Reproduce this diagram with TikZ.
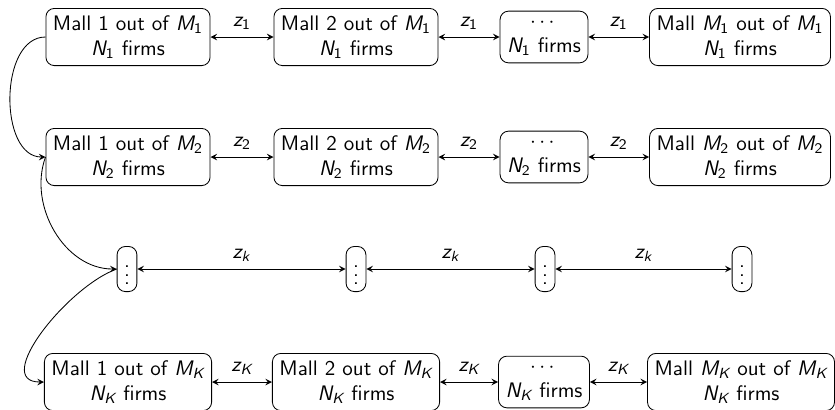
\documentclass[tikz,border=0pt]{standalone}
\usepackage{amsmath}
\usetikzlibrary{arrows}
\newcommand{\vr}[2]{\ensuremath{\textit{#1}_{\textup{#2}}}}
\newcommand{\vi}[2]{\ensuremath{\textit{#1}_{\textit{#2}}}}
\tikzset{
  mall/.style={draw, rounded corners=4pt, align=center, inner sep=3.33pt},
  vd/.style={draw, rounded corners=4pt, inner sep=3.33pt, minimum height=21pt},
  link/.style={<->, >=stealth},
  curv/.style={->, >=stealth},
  lab/.style={above}
}
\begin{document}
\begin{tikzpicture}[x=0.476pt,y=-0.476pt,font=\sffamily]
\useasboundingbox (0,0) rectangle (835,409);
% row 1
\node[mall] (a1) at (128,37) {Mall 1 out of \vr{M}{1}\\\vr{N}{1} firms};
\node[mall] (a2) at (356,37) {Mall 2 out of \vr{M}{1}\\\vr{N}{1} firms};
\node[mall] (a3) at (544,37) {$\cdots$\\\vr{N}{1} firms};
\node[mall] (a4) at (740,37) {Mall \vr{M}{1} out of \vr{M}{1}\\\vr{N}{1} firms};
% row 2
\node[mall] (b1) at (128,157) {Mall 1 out of \vr{M}{2}\\\vr{N}{2} firms};
\node[mall] (b2) at (356,157) {Mall 2 out of \vr{M}{2}\\\vr{N}{2} firms};
\node[mall] (b3) at (544,157) {$\cdots$\\\vr{N}{2} firms};
\node[mall] (b4) at (740,157) {Mall \vr{M}{2} out of \vr{M}{2}\\\vr{N}{2} firms};
% row 3
\node[vd] (c1) at (127,269) {$\vdots$};
\node[vd] (c2) at (356,269) {$\vdots$};
\node[vd] (c3) at (545,269) {$\vdots$};
\node[vd] (c4) at (742,269) {$\vdots$};
% row 4
\node[mall] (d1) at (128,382) {Mall 1 out of \vi{M}{K}\\\vi{N}{K} firms};
\node[mall] (d2) at (356,382) {Mall 2 out of \vi{M}{K}\\\vi{N}{K} firms};
\node[mall] (d3) at (544,382) {$\cdots$\\\vi{N}{K} firms};
\node[mall] (d4) at (741,382) {Mall \vi{M}{K} out of \vi{M}{K}\\\vi{N}{K} firms};
% horizontal links
\draw[link] (a1) -- node[lab]{\vr{z}{1}} (a2);
\draw[link] (a2) -- node[lab]{\vr{z}{1}} (a3);
\draw[link] (a3) -- node[lab]{\vr{z}{1}} (a4);
\draw[link] (b1) -- node[lab]{\vr{z}{2}} (b2);
\draw[link] (b2) -- node[lab]{\vr{z}{2}} (b3);
\draw[link] (b3) -- node[lab]{\vr{z}{2}} (b4);
\draw[link] (c1) -- node[lab]{\vi{z}{k}} (c2);
\draw[link] (c2) -- node[lab]{\vi{z}{k}} (c3);
\draw[link] (c3) -- node[lab]{\vi{z}{k}} (c4);
\draw[link] (d1) -- node[lab]{\vi{z}{K}} (d2);
\draw[link] (d2) -- node[lab]{\vi{z}{K}} (d3);
\draw[link] (d3) -- node[lab]{\vi{z}{K}} (d4);
% left curves
\draw[curv] (a1.west) to[out=180,in=180] (b1.west);
\draw[curv] (b1.west) to[out=250,in=180] (c1.west);
\draw[curv] (c1.west) to[out=200,in=180] (d1.west);
\end{tikzpicture}
\end{document}
